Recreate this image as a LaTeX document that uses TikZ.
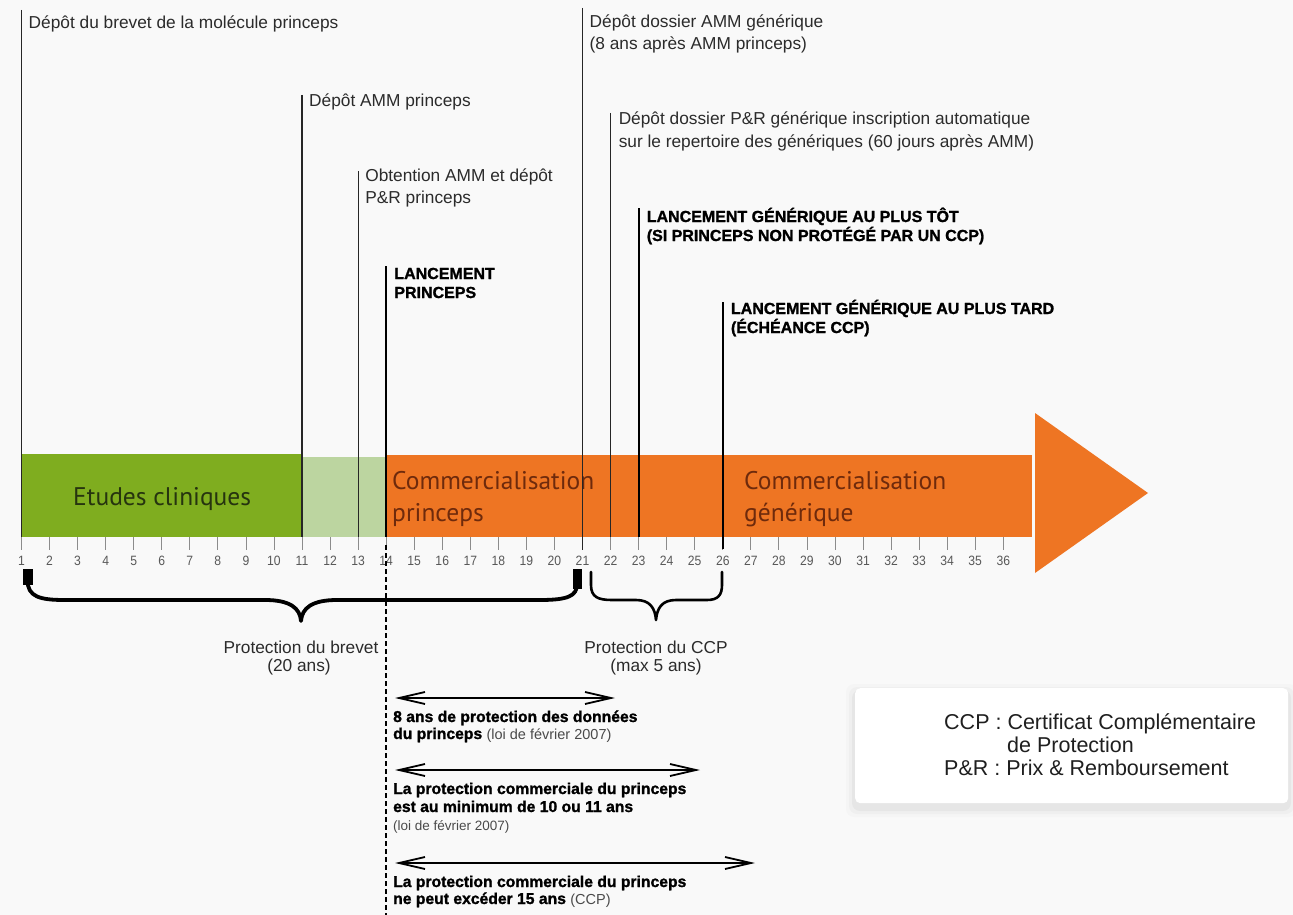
\documentclass[tikz,border=0pt]{standalone}
\usepackage{fontspec}
\setmainfont{Liberation Sans}[BoldFeatures={FakeBold=1.3}]
\newfontfamily\barfont{PT Sans}
\newfontfamily\narrowfont[FakeStretch=0.9]{Liberation Sans}
\usetikzlibrary{arrows.meta,calc}
\definecolor{bggray}{HTML}{F9F9F9}
\definecolor{cgreen}{HTML}{7FAD1F}
\definecolor{clight}{HTML}{BCD5A0}
\definecolor{corange}{HTML}{EE7523}
\definecolor{greentxt}{HTML}{26340F}
\definecolor{orangetxt}{HTML}{6E2A0C}
\definecolor{txtgray}{HTML}{2B2B2B}
\definecolor{smallgray}{HTML}{4A4A4A}
\begin{document}
\begin{tikzpicture}[x=1pt,y=-1pt,
  lbl/.style={anchor=base west, inner sep=0pt, text=txtgray, font=\fontsize{17.3}{22}\selectfont},
  blbl/.style={anchor=base west, inner sep=0pt, text=black, font=\bfseries\fontsize{16}{19}\selectfont},
  btxt/.style={anchor=base west, inner sep=0pt, text=black, font=\bfseries\fontsize{15.7}{18}\selectfont},
  small/.style={text=smallgray, font=\mdseries\fontsize{13.5}{16}\selectfont},
  num/.style={anchor=base, inner sep=0pt, text=black!65, font=\narrowfont\fontsize{13.5}{14}\selectfont},
  bartxt/.style={anchor=base west, inner sep=0pt, font=\barfont\fontsize{25.5}{28}\selectfont},
  vthin/.style={line width=1.1pt, draw=black!85},
  vthick/.style={line width=2.2pt, draw=black},
  tickline/.style={line width=0.8pt, draw=black!45},
  dashline/.style={line width=2pt, dash pattern=on 5pt off 3pt},
  darr/.style={{Straight Barb[length=26pt,width=12pt]}-{Straight Barb[length=26pt,width=12pt]}, line width=1.8pt},
  brc/.style={line width=3.8pt, line cap=round, line join=round},
  brcs/.style={line width=2.6pt, line cap=round, line join=round},
  legtxt/.style={anchor=base west, inner sep=0pt, text=black!88, font=\fontsize{21.5}{23}\selectfont}
]
\useasboundingbox (0,0) rectangle (1293,915);
\fill[bggray] (0,0) rectangle (1293,915);

% ticks and numbers
\foreach \i in {1,...,36}{
  \pgfmathsetmacro{\xx}{21.5+28.05*(\i-1)}
  \coordinate (t\i) at (\xx,537);
  \draw[tickline] (\xx,537) -- (\xx,550);
  \node[num] (n\i) at (\xx,565) {\i};
}

% bar
\fill[cgreen] (t1 |- 0,454) rectangle (t11);
\fill[clight] (t11 |- 0,457) rectangle (t14);
\fill[corange] (t14 |- 0,455) rectangle (1032,537);
\fill[corange] (1035,413) -- (1035,573) -- (1148,493) -- cycle;

\node[bartxt, text=greentxt] (etudes) at (73,505) {Etudes cliniques};
\node[bartxt, text=orangetxt] (cp1) at (392,489) {Commercialisation};
\node[bartxt, text=orangetxt] (cp2) at (392,521) {princeps};
\node[bartxt, text=orangetxt] (cg1) at (744,489) {Commercialisation};
\node[bartxt, text=orangetxt] (cg2) at (744,521) {générique};

% vertical event lines
\draw[vthin] (t1 |- 0,10) -- (t1);
\draw[vthin] (t11 |- 0,95) -- (t11);
\draw[vthin] (t13 |- 0,171) -- (t13);
\draw[vthick] (t14 |- 0,266) -- (t14);
\draw[vthin, line width=1.4pt] (t21 |- 0,8) -- ($(t21)+(0,13)$);
\draw[vthin] (t22 |- 0,113) -- (t22);
\draw[vthick] (t23 |- 0,208) -- (t23);
\draw[vthick] (t26 |- 0,302) -- ($(t26)+(0,12)$);

% top labels
\node[lbl] (l1) at ($(t1 |- 0,29)+(7,0)$) {Dépôt du brevet de la molécule princeps};
\node[lbl] (l11) at ($(t11 |- 0,107)+(7,0)$) {Dépôt AMM princeps};
\node[lbl] (l13a) at ($(t13 |- 0,182)+(7,0)$) {Obtention AMM et dépôt};
\node[lbl] (l13b) at ($(t13 |- 0,203)+(7,0)$) {P\&R princeps};
\node[blbl] (l14a) at ($(t14 |- 0,279)+(8,0)$) {LANCEMENT};
\node[blbl] (l14b) at ($(t14 |- 0,298)+(8,0)$) {PRINCEPS};
\node[lbl] (l21a) at ($(t21 |- 0,28)+(7,0)$) {Dépôt dossier AMM générique};
\node[lbl] (l21b) at ($(t21 |- 0,50)+(7,0)$) {(8 ans après AMM princeps)};
\node[lbl] (l22a) at ($(t22 |- 0,125)+(8,0)$) {Dépôt dossier P\&R générique inscription automatique};
\node[lbl] (l22b) at ($(t22 |- 0,147)+(8,0)$) {sur le repertoire des génériques (60 jours après AMM)};
\node[blbl] (l23a) at ($(t23 |- 0,222)+(8,0)$) {LANCEMENT GÉNÉRIQUE AU PLUS TÔT};
\node[blbl] (l23b) at ($(t23 |- 0,241)+(8,0)$) {(SI PRINCEPS NON PROTÉGÉ PAR UN CCP)};
\node[blbl] (l26a) at ($(t26 |- 0,314)+(8,0)$) {LANCEMENT GÉNÉRIQUE AU PLUS TARD};
\node[blbl] (l26b) at ($(t26 |- 0,333)+(8,0)$) {(ÉCHÉANCE CCP)};

% braces
\draw[line width=10pt] (27.5,569) -- (27.5,585);
\draw[line width=9pt] (577,569) -- (577,589);
\draw[brc] (27.5,580) .. controls (27.5,597) and (40,600) .. (65,600) -- (265,600)
  .. controls (290,600) and (300,608) .. (301,621)
  .. controls (302,608) and (312,600) .. (337,600) -- (540,600)
  .. controls (568,600) and (577,596) .. (577,584);
\draw[brcs] (591,572) -- (591,585) .. controls (591,597) and (598,600) .. (612,600) -- (636,600)
  .. controls (650,600) and (655,608) .. (656,620)
  .. controls (657,608) and (662,600) .. (676,600) -- (707,600)
  .. controls (718,600) and (722,595) .. (722,585) -- (722,572);

\node[lbl, anchor=base] (pb1) at (301,653) {Protection du brevet};
\node[lbl, anchor=base] (pb2) at (299,671) {(20 ans)};
\node[lbl, anchor=base] (pc1) at (656,653) {Protection du CCP};
\node[lbl, anchor=base] (pc2) at (656,671) {(max 5 ans)};

% dashed line
\draw[dashline] ($(t14)+(0,8)$) -- (t14 |- 0,915);

% double arrows
\coordinate (a1l) at (395,698); \coordinate (a1r) at (615,698);
\coordinate (a2l) at (395,770); \coordinate (a2r) at (700,770);
\coordinate (a3l) at (395,863); \coordinate (a3r) at (755,863);
\draw[darr] (a1l) -- (a1r);
\draw[darr] (a2l) -- (a2r);
\draw[darr] (a3l) -- (a3r);

\node[btxt] (b1a) at (393,722) {8 ans de protection des données};
\node[btxt] (b1b) at (393,739) {du princeps {\mdseries\color{smallgray}\fontsize{14.5}{16}\selectfont (loi de février 2007)}};
\node[btxt] (b2a) at (393,794) {La protection commerciale du princeps};
\node[btxt] (b2b) at (393,812) {est au minimum de 10 ou 11 ans};
\node[btxt, small] (b2c) at (393,830) {(loi de février 2007)};
\node[btxt] (b3a) at (393,887) {La protection commerciale du princeps};
\node[btxt] (b3b) at (393,904) {ne peut excéder 15 ans {\mdseries\color{smallgray}\fontsize{14.5}{16}\selectfont (CCP)}};

% legend
\foreach \k/\o in {9/0.015,6/0.025,3/0.035}{
  \fill[black, opacity=\o, rounded corners=8pt] (855-\k,688-\k+5) rectangle (1288+\k,803+\k+5);
}
\node[fill=white, rounded corners=5pt, minimum width=433pt, minimum height=115pt, anchor=north west, inner sep=0pt] (legend) at (855,688) {};
\node[legtxt] (lg1) at (944,729) {CCP : Certificat Complémentaire};
\node[legtxt] (lg2) at (1007,752) {de Protection};
\node[legtxt] (lg3) at (944,775) {P\&R : Prix \& Remboursement};
\end{tikzpicture}
\end{document}
